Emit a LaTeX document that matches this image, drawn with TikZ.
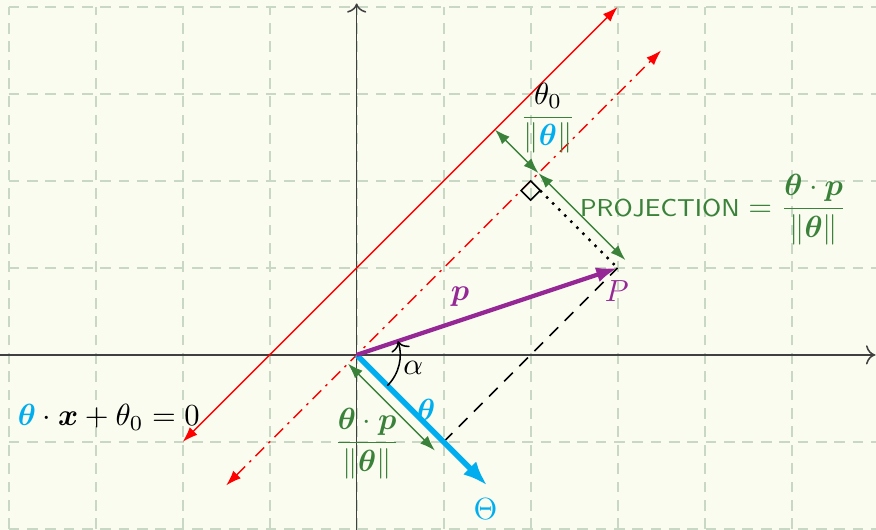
\documentclass[tikz,border=0pt]{standalone}
\definecolor{BgCream}{RGB}{250,252,240}
\definecolor{GridGreen}{RGB}{200,216,196}
\definecolor{MeasureGreen}{RGB}{58,130,58}
\definecolor{ThetaBlue}{RGB}{0,174,239}
\definecolor{PointPurple}{RGB}{150,40,150}
\usepackage{tikz}
\usetikzlibrary{arrows.meta, calc}
\usepackage{amsmath, amssymb, bm}
\usepackage{xcolor}

\begin{document}
\begin{tikzpicture}[
  gridline/.style={draw=GridGreen, line width=0.6pt, dash pattern=on 3.5pt off 2.5pt},
  axisline/.style={draw=black!75, line width=0.5pt, -{To[length=3pt]}},
  boundary/.style={draw=red, line width=0.5pt, {Latex[length=5pt,width=3.5pt]}-{Latex[length=5pt,width=3.5pt]}},
  measure/.style={draw=MeasureGreen, line width=0.5pt, {Latex[length=5pt,width=3.5pt]}-{Latex[length=5pt,width=3.5pt]}},
  greenlabel/.style={text=MeasureGreen, inner sep=1pt}
]
  % canvas
  \fill[BgCream] (-4.1,-2.01) rectangle (5.97,4.08);
  \useasboundingbox (-4.1,-2.01) rectangle (5.97,4.08);
  \draw[gridline] (-4,-2) grid (6,4);

  % points
  \coordinate (O) at (0,0);
  \coordinate (P) at (3,1);
  \coordinate (Q) at (1,-1);
  \coordinate (R) at (2,2);
  \coordinate (S) at (1.5,2.5);
  \coordinate (Th) at (1.5,-1.5);
  \coordinate (Rc) at ($(R)+(0.11,-0.11)$);

  % axes
  \coordinate (xl) at (-4.1,0);
  \coordinate (xr) at (5.96,0);
  \coordinate (yb) at (0,-2.05);
  \coordinate (yt) at (0,4.04);
  \draw[axisline] (xl) -- (xr);
  \draw[axisline] (yb) -- (yt);

  % decision boundary and its parallel through the origin
  \coordinate (b1) at (-2,-1);
  \coordinate (b2) at (3,4);
  \coordinate (c1) at (-1.5,-1.5);
  \coordinate (c2) at (3.5,3.5);
  \draw[boundary] (b1) -- (b2);
  \draw[boundary, dash pattern=on 4pt off 2pt on 0.8pt off 2pt] (c1) -- (c2);

  % projections
  \draw[black, line width=0.5pt, dash pattern=on 4pt off 3pt] (Q) -- (P);
  \draw[black, line width=0.8pt, dotted] (Rc) -- (P);
  \draw[black, line width=0.5pt] (R) -- ++(0.11,-0.11) -- ++(-0.11,-0.11) -- ++(-0.11,0.11) -- cycle;

  % vectors
  \draw[draw=ThetaBlue, line width=1.8pt, -{Latex[length=8pt,width=6pt]}] (O) -- (Th);
  \draw[draw=PointPurple, line width=1.4pt, -{Latex[length=7pt,width=5pt]}] (O) -- (P);

  % angle
  \coordinate (a0) at ($(O)+(-45:0.5)$);
  \draw[black, line width=0.5pt, -{To[length=3pt]}] (a0) arc[start angle=-45, end angle=18.43, radius=0.5];

  % distance markers
  \draw[measure] ($(S)+(0.09,0.09)$) -- ($(R)+(0.09,0.09)$);
  \draw[measure] ($(R)+(0.09,0.09)$) -- ($(P)+(0.09,0.09)$);
  \draw[measure] ($(O)+(-0.1,-0.1)$) -- ($(Q)+(-0.1,-0.1)$);

  % labels
  \node[greenlabel] (offset) at (2.2,2.72)
    {$\dfrac{\color{black}\theta_0}{\|{\color{ThetaBlue}\bm{\theta}}\|}$};
  \node[greenlabel] (projection) at (4.1,1.67)
    {\footnotesize\textsf{PROJECTION} \normalsize$=\dfrac{\bm{\theta}\cdot\bm{p}}{\|\bm{\theta}\|}$};
  \node[greenlabel] (proj0) at (0.12,-1.02)
    {$\dfrac{\bm{\theta}\cdot\bm{p}}{\|\bm{\theta}\|}$};
  \node[text=ThetaBlue] (thetalabel) at (0.8,-0.63) {$\bm{\theta}$};
  \node[text=ThetaBlue] (Thetalabel) at (1.48,-1.77) {$\Theta$};
  \node[text=PointPurple] (plabel) at (1.19,0.67) {$\bm{p}$};
  \node[text=PointPurple] (Plabel) at (2.99,0.73) {$P$};
  \node (alpha) at (0.65,-0.15) {$\alpha$};
  \node (equation) at (-2.85,-0.72)
    {${\color{ThetaBlue}\bm{\theta}}\cdot\bm{x}+\theta_0=0$};
\end{tikzpicture}
\end{document}
